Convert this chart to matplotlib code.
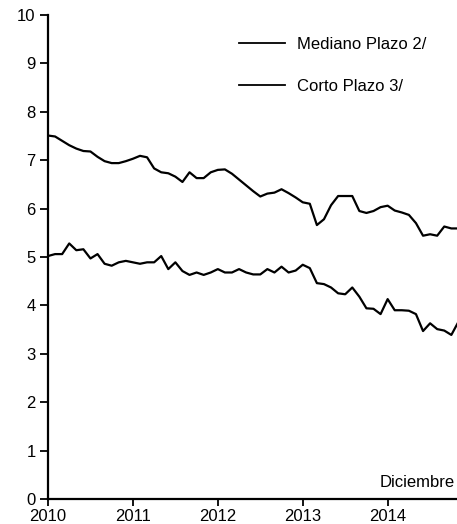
import matplotlib.pyplot as plt
import numpy as np

plt.rcParams['font.family'] = ['Liberation Sans', 'DejaVu Sans']

# monthly series, Jan 2010 onward
mediano = [7.51, 7.49, 7.40, 7.31, 7.24, 7.19, 7.18, 7.07, 6.98, 6.94,
           6.94, 6.98, 7.03, 7.09, 7.06, 6.83, 6.75, 6.73, 6.66, 6.55,
           6.75, 6.63, 6.63, 6.75, 6.80, 6.81, 6.72, 6.60, 6.48, 6.36,
           6.25, 6.31, 6.33, 6.40, 6.32, 6.23, 6.13, 6.10, 5.66, 5.78,
           6.07, 6.26, 6.26, 6.26, 5.95, 5.91, 5.95, 6.03, 6.06, 5.96,
           5.92, 5.87, 5.70, 5.44, 5.47, 5.44, 5.63, 5.59, 5.59]
corto = [5.02, 5.06, 5.06, 5.28, 5.14, 5.16, 4.97, 5.06, 4.86, 4.82,
         4.89, 4.92, 4.89, 4.86, 4.89, 4.89, 5.02, 4.75, 4.89, 4.71,
         4.63, 4.68, 4.63, 4.68, 4.75, 4.68, 4.68, 4.75, 4.68, 4.64,
         4.64, 4.75, 4.68, 4.80, 4.68, 4.72, 4.84, 4.77, 4.46, 4.44,
         4.37, 4.25, 4.23, 4.37, 4.18, 3.94, 3.93, 3.82, 4.13, 3.90,
         3.90, 3.89, 3.82, 3.47, 3.63, 3.51, 3.48, 3.39, 3.66]
years = ["2010", "2011", "2012", "2013", "2014"]
series_names = ["Mediano Plazo 2/", "Corto Plazo 3/"]

months = np.arange(len(mediano))

fig = plt.figure(figsize=(4.57, 5.24), dpi=100)
ax = fig.add_axes([48 / 457, 25 / 524, 1 - 48 / 457, 484 / 524])

l1, = ax.plot(months, mediano, color="black", lw=1.6)
l2, = ax.plot(months, corto, color="black", lw=1.6)

ax.set_xlim(0, 57.8)
ax.set_ylim(0, 10)
ax.set_yticks(range(0, 11))
ax.set_xticks(np.arange(len(years)) * 12)
ax.set_xticklabels(years)

for side in ["top", "right"]:
    ax.spines[side].set_visible(False)
for side in ["left", "bottom"]:
    ax.spines[side].set_linewidth(1.6)
ax.tick_params(axis="both", direction="out", width=1.3, labelsize=12)
ax.tick_params(axis="y", length=6, pad=3)
ax.tick_params(axis="x", length=5, pad=2)

leg = ax.legend([l1, l2], series_names, loc="upper left",
                bbox_to_anchor=(0.430, 0.985), frameon=False, fontsize=12,
                handlelength=2.75, handletextpad=0.72, labelspacing=1.58)
for line in leg.get_lines():
    line.set_linewidth(1.3)

ax.text(0.812, 0.0254, "Diciembre", transform=ax.transAxes, fontsize=12,
        ha="left", va="baseline")

fig.savefig("out.png", dpi=100)
